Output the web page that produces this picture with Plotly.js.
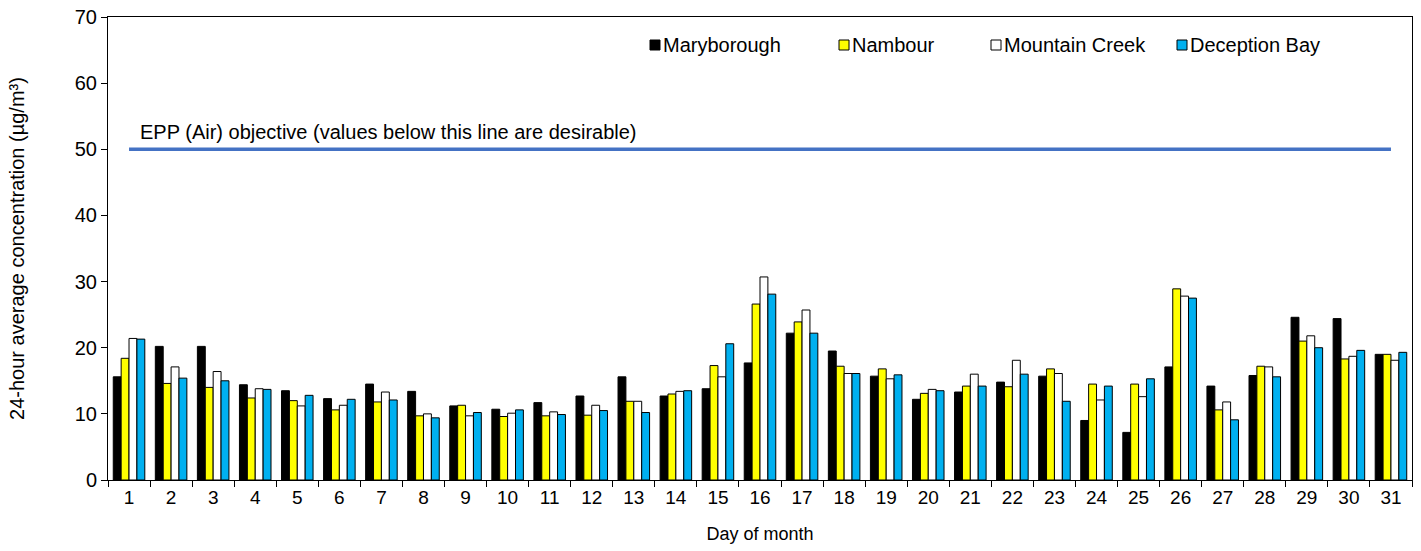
<!DOCTYPE html>
<html>
<head>
<meta charset="utf-8">
<script src="https://cdn.plot.ly/plotly-3.0.1.min.js"></script>
<style>html,body{margin:0;padding:0;background:#fff;}#chart{width:1421px;height:551px;}</style>
</head>
<body>
<div id="chart"></div>
<script>
// ---- data ----
var days = ['1','2','3','4','5','6','7','8','9','10','11','12','13','14','15','16','17','18','19','20','21','22','23','24','25','26','27','28','29','30','31'];
var seriesNames = ['Maryborough', 'Nambour', 'Mountain Creek', 'Deception Bay'];
var maryborough   = [15.6,20.2,20.2,14.4,13.5,12.3,14.5,13.4,11.2,10.7,11.7,12.7,15.6,12.7,13.8,17.7,22.2,19.5,15.7,12.2,13.3,14.8,15.7,9.0,7.2,17.1,14.2,15.8,24.6,24.4,19.0];
var nambour       = [18.4,14.6,14.0,12.4,12.0,10.6,11.8,9.7,11.3,9.6,9.7,9.8,11.9,13.0,17.3,26.6,23.9,17.2,16.8,13.1,14.2,14.1,16.8,14.5,14.5,28.9,10.6,17.2,21.0,18.3,19.0];
var mountainCreek = [21.4,17.1,16.4,13.8,11.2,11.3,13.3,10.0,9.7,10.1,10.3,11.3,11.9,13.4,15.6,30.7,25.7,16.1,15.3,13.7,16.0,18.1,16.1,12.1,12.6,27.8,11.8,17.1,21.8,18.7,18.1];
var deceptionBay  = [21.3,15.4,15.0,13.7,12.8,12.2,12.1,9.4,10.2,10.6,9.9,10.5,10.2,13.5,20.6,28.1,22.2,16.1,15.9,13.5,14.2,16.0,11.9,14.2,15.3,27.5,9.1,15.6,20.0,19.6,19.3];
var objectiveValue = 50;
var objectiveLabel = 'EPP (Air) objective (values below this line are desirable)';
var yTitle = '24-hour average concentration (µg/m³)';
var xTitle = 'Day of month';

// ---- styling ----
var colors = ['#000000', '#FFFF00', '#FFFFFF', '#00B0F0'];
var values = [maryborough, nambour, mountainCreek, deceptionBay];
var FONT = 'Arial, "Liberation Sans", sans-serif';
var FS = 20;

var traces = values.map(function (v, i) {
  return {
    type: 'bar', x: days, y: v, name: seriesNames[i],
    marker: {color: colors[i], line: {color: '#000000', width: 1}},
    showlegend: false, hoverinfo: 'x+y+name'
  };
});
traces.push({
  type: 'scatter', mode: 'lines', x: days,
  y: days.map(function () { return objectiveValue; }),
  line: {color: '#4472C4', width: 3.5}, showlegend: false, hoverinfo: 'skip'
});

// plot area geometry in pixels (for placing legend)
var L = 108, R = 9, T = 17, B = 71, W = 1421, H = 551;
var pw = W - L - R, ph = H - T - B;
function px2x(p) { return (p - L) / pw; }
function py2y(p) { return (H - B - p) / ph; }

var legendLeft = [650, 839, 991, 1177];
var shapes = [], annotations = [];
seriesNames.forEach(function (n, i) {
  shapes.push({type: 'rect', xref: 'paper', yref: 'paper',
    x0: px2x(legendLeft[i]), x1: px2x(legendLeft[i] + 10),
    y0: py2y(50), y1: py2y(40),
    fillcolor: colors[i], line: {color: '#000000', width: 1}});
  annotations.push({xref: 'paper', yref: 'paper', x: px2x(legendLeft[i] + 11), y: py2y(45),
    xanchor: 'left', yanchor: 'middle', text: n, showarrow: false,
    font: {family: FONT, size: FS, color: '#000'}});
});
annotations.push({xref: 'paper', yref: 'paper', x: px2x(138), y: py2y(132),
  xanchor: 'left', yanchor: 'middle', text: objectiveLabel, showarrow: false,
  font: {family: FONT, size: FS, color: '#000'}});

var layout = {
  width: W, height: H,
  margin: {l: L, r: R, t: T, b: B, pad: 0},
  paper_bgcolor: '#fff', plot_bgcolor: '#fff',
  font: {family: FONT, size: FS, color: '#000'},
  barmode: 'group', bargap: 0.25, bargroupgap: 0,
  showlegend: false,
  xaxis: {
    type: 'category', tickson: 'boundaries', ticks: 'outside', ticklen: 6, tickcolor: '#000',
    showline: true, linecolor: '#000', linewidth: 1, mirror: true, showgrid: false,
    tickfont: {family: FONT, size: 19}, automargin: false,
    title: {text: xTitle, font: {family: FONT, size: 18}, standoff: 20}
  },
  yaxis: {
    range: [0, 70], dtick: 10, ticks: 'outside', ticklen: 6, tickcolor: '#000',
    showline: true, linecolor: '#000', linewidth: 1, mirror: true, showgrid: false, zeroline: false,
    tickfont: {family: FONT, size: FS}, automargin: false,
    title: {text: yTitle, font: {family: FONT, size: FS}, standoff: 44}
  },
  shapes: shapes, annotations: annotations
};

Plotly.newPlot('chart', traces, layout, {displayModeBar: false, staticPlot: true});
</script>
</body>
</html>
